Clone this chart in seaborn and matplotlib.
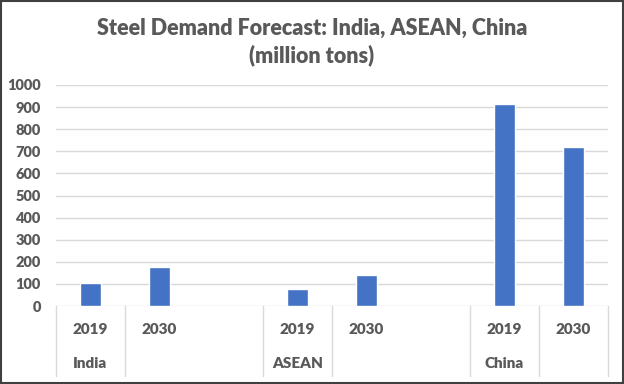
import matplotlib
matplotlib.use("Agg")
import matplotlib.pyplot as plt
import matplotlib.transforms as mtransforms
from matplotlib.patches import Rectangle
import seaborn as sns
import pandas as pd
import numpy as np

# Data
slots = ["India 2019", "India 2030", "gap1", "ASEAN 2019", "ASEAN 2030", "gap2", "China 2019", "China 2030"]
years = ["2019", "2030", "", "2019", "2030", "", "2019", "2030"]
groups = ["India", "", "", "ASEAN", "", "", "China", ""]
values = [102, 178, np.nan, 77, 139, np.nan, 912, 721]
yticks = [0, 100, 200, 300, 400, 500, 600, 700, 800, 900, 1000]

sns.set_theme(style="white")
plt.rcParams['font.family'] = ['Lato', 'DejaVu Sans']
text_color = "#595959"

df = pd.DataFrame({"slot": slots, "value": values})

W, H = 624, 384
fig = plt.figure(figsize=(W / 100, H / 100), dpi=100)
left, right, top, bottom = 56, 608, 85, 306
ax = fig.add_axes([left / W, 1 - bottom / H, (right - left) / W, (bottom - top) / H])

sns.barplot(data=df, x="slot", y="value", order=slots, color="#4472C4",
            width=0.31, saturation=1, ax=ax, zorder=3)

ax.set_xlim(-0.5, len(slots) - 0.5)
ax.set_ylim(0, 1000)
ax.set_yticks(yticks)
ax.set_yticklabels([str(t) for t in yticks], fontsize=10.5, fontweight="heavy", color=text_color)
ax.tick_params(axis="y", length=0, pad=11)
ax.set_xticks([])
ax.set_xlabel("")
ax.set_ylabel("")
ax.grid(axis="y", color="#D9D9D9", linewidth=1, zorder=0)
for s in ax.spines.values():
    s.set_visible(False)

trans = mtransforms.blended_transform_factory(ax.transData, ax.transAxes)
axh = bottom - top
y_year = -(330 - bottom) / axh
y_group = -(364 - bottom) / axh
y_line_end = -(376 - bottom) / axh

for i, (yr, gp) in enumerate(zip(years, groups)):
    if yr:
        ax.text(i, y_year, yr, transform=trans, ha="center", va="center",
                fontsize=11, fontweight="heavy", color=text_color)
    if gp:
        ax.text(i, y_group, gp, transform=trans, ha="center", va="center",
                fontsize=11, fontweight="heavy", color=text_color)

for xb in [-0.5, 0.5, 2.5, 3.5, 5.5, 6.5, 7.5]:
    ax.plot([xb, xb], [0, y_line_end], transform=trans, color="#D9D9D9",
            linewidth=1, clip_on=False, zorder=1)

fig.text(0.5, 1 - 42 / H, "Steel Demand Forecast: India, ASEAN, China\n(million tons)",
         ha="center", va="center", fontsize=15.5, fontweight="heavy", color=text_color,
         linespacing=1.3)

fig.patches.append(Rectangle((0.001, 0.002), 0.997, 0.996, transform=fig.transFigure,
                             fill=False, edgecolor="#404040", linewidth=1.5))

fig.savefig("out.png", dpi=100)
